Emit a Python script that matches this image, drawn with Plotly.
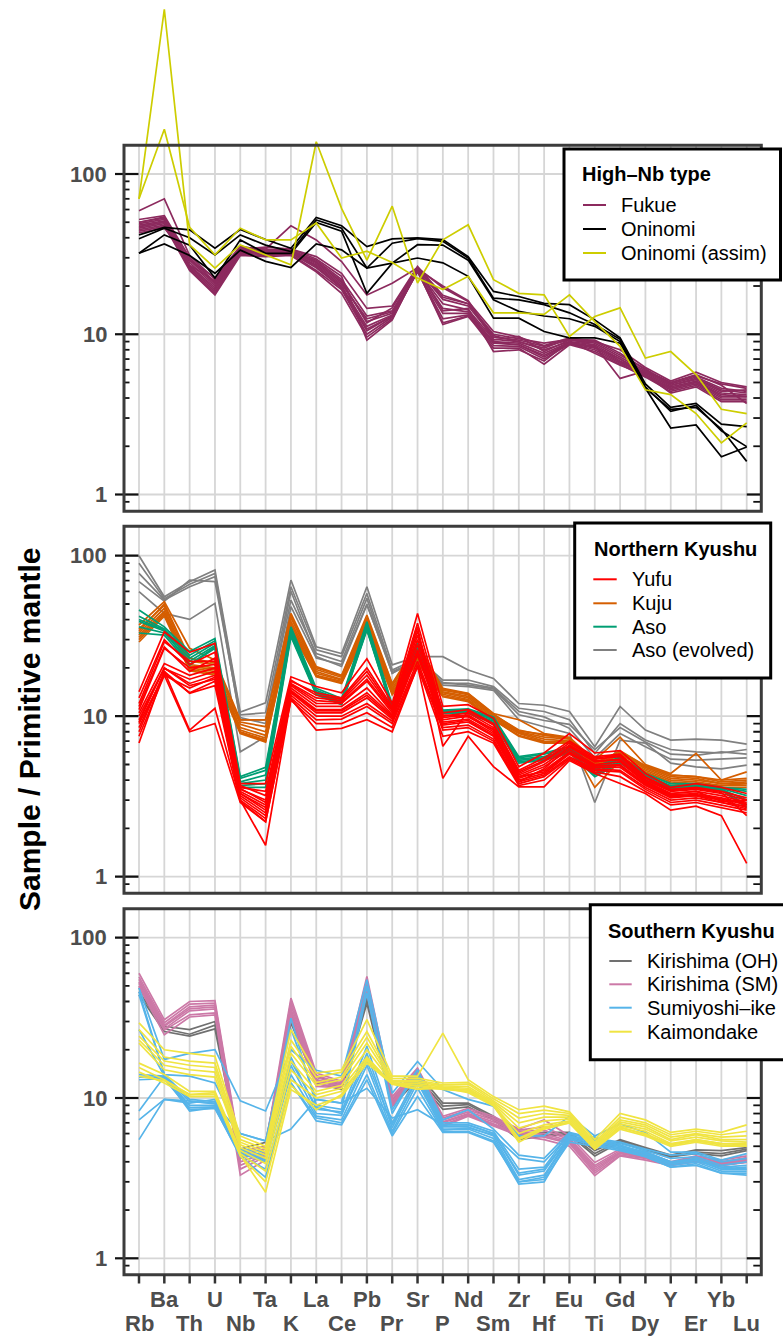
import math
import plotly.graph_objects as go

# Spider diagram: primitive-mantle normalised trace elements, three volcanic groups
ELEMENTS = ["Rb", "Ba", "Th", "U", "Nb", "Ta", "K", "La", "Ce", "Pb", "Pr", "Sr", "P",
            "Nd", "Sm", "Zr", "Hf", "Eu", "Ti", "Gd", "Dy", "Y", "Er", "Yb", "Lu"]

# ---- High-Nb type -------------------------------------------------------
FUKUE = [
    [59, 70, 31, 22, 35, 34, 47.5, 38.8, 28.4, 17.6, 20.8, 26, 19.5, 16.0, 10.4, 9.6, 8.5, 9.5, 9.0, 8.0, 6.2, 5.1, 5.8, 5.0, 4.7],
    [52, 55, 30, 21, 34, 35, 34, 30.5, 24, 14.5, 15, 26.5, 17.5, 15.5, 10.0, 9.4, 8.8, 9.3, 9.2, 7.6, 6.0, 5.0, 5.5, 4.9, 4.6],
    [50, 54, 28, 20, 33.5, 33, 33, 29, 22, 13, 14, 25.5, 16.5, 15, 9.6, 9.2, 8.4, 9.2, 8.8, 7.2, 5.9, 4.9, 5.4, 4.6, 4.4],
    [49, 52, 27, 19.5, 33, 32.5, 33, 28, 21, 12, 13.5, 25, 15.5, 14.2, 9.3, 9.0, 8.0, 9.0, 8.6, 7.0, 5.8, 4.8, 5.3, 4.5, 4.3],
    [48, 51, 26.5, 19, 32.5, 32, 32.5, 27, 20, 11.2, 13.2, 25, 14.5, 13.8, 9.0, 8.8, 7.6, 8.9, 8.4, 6.8, 5.7, 4.7, 5.1, 4.3, 4.2],
    [47, 50, 26, 18.5, 32, 31.5, 32, 26, 19.5, 10.5, 13, 24.5, 13.5, 13.5, 8.8, 8.6, 7.2, 8.8, 8.2, 6.7, 5.6, 4.6, 5.0, 4.2, 4.1],
    [46, 49, 25.5, 18, 31.5, 31, 31.5, 25, 19, 10, 12.8, 24.6, 12.5, 13.2, 8.5, 8.4, 7.0, 8.7, 8.0, 6.6, 5.5, 4.5, 4.9, 4.0, 4.0],
    [45, 48, 25, 17.6, 31, 30.5, 31, 24.5, 18, 9.6, 12.5, 24.8, 11.8, 13.0, 8.2, 8.2, 6.5, 8.6, 7.8, 6.5, 5.4, 4.4, 4.8, 3.9, 3.9],
    [44, 47, 27, 21.5, 34, 33.5, 34, 29.5, 23, 9.2, 12.3, 25.5, 14, 14.5, 7.8, 8.0, 6.8, 9.0, 7.6, 6.4, 5.6, 4.3, 4.7, 3.8, 3.8],
    [43, 46, 29, 22.5, 35.5, 33, 33.5, 28.5, 21.5, 11.8, 14.6, 26, 17, 15.5, 9.8, 9.0, 8.2, 9.4, 8.5, 5.3, 5.9, 5.0, 5.6, 4.8, 3.7],
    [50, 53, 30, 21, 34, 34, 33, 27.5, 20.5, 12.5, 13.8, 25.5, 20, 16.2, 9.2, 9.7, 7.8, 9.2, 9.0, 7.4, 6.1, 4.8, 5.2, 4.4, 4.5],
    [47, 50, 29, 20.5, 33, 32, 32.5, 26.5, 19.5, 10.8, 13, 25, 11.5, 12.9, 8.9, 8.6, 7.4, 8.8, 8.3, 7.0, 5.5, 4.6, 5.0, 4.1, 4.1],
]
ONINOMI = [
    [41.7, 46.5, 44.8, 34.4, 45.0, 39.0, 34.4, 53.5, 47.5, 35.2, 39.4, 39.9, 39.0, 30.5, 18.5, 17.2, 15.6, 15.3, 12.3, 9.5, 4.9, 3.5, 3.7, 2.75, 2.65],
    [39.4, 45.9, 40.0, 31.3, 41.7, 36.0, 32.8, 51.7, 45.9, 25.9, 37.0, 39.5, 38.0, 29.9, 16.8, 16.4, 15.3, 13.6, 11.5, 9.3, 4.7, 3.3, 3.6, 2.5, 1.99],
    [32.0, 41.7, 36.0, 22.4, 38.8, 32.0, 32.0, 49.8, 44.0, 18.0, 27.8, 36.2, 36.0, 29.0, 16.4, 13.9, 13.0, 12.5, 11.2, 9.0, 4.6, 3.4, 3.5, 2.56, 1.61],
    [32.0, 36.6, 31.0, 24.0, 33.5, 28.5, 26.1, 36.6, 33.6, 25.9, 27.8, 29.9, 27.9, 23.0, 12.6, 12.6, 10.4, 9.5, 9.5, 8.8, 4.6, 2.6, 2.72, 1.72, 1.98],
]
ONINOMI_ASSIM = [
    [70, 1067, 36.1, 25.9, 36.1, 31.3, 27.1, 159, 61, 29, 63, 20.9, 38.8, 48.2, 21.9, 18.0, 17.6, 9.7, 12.9, 14.6, 7.1, 7.8, 5.6, 3.4, 3.2],
    [70, 190, 46.5, 31.3, 45.9, 38.8, 38.8, 49.5, 29.9, 33, 28, 22.4, 19.0, 23.0, 13.6, 13.6, 13.3, 17.6, 12.0, 8.4, 4.5, 4.2, 3.2, 2.1, 2.8],
]

# ---- Northern Kyushu ----------------------------------------------------
YUFU = [
    [14.2, 33.6, 25, 28.4, 3.8, 3.8, 17.6, 15.3, 14.0, 22.8, 12.0, 43.7, 11.5, 11.8, 9.7, 4.84, 5.9, 7.8, 5.9, 6.1, 4.4, 3.6, 3.8, 3.6, 3.3],
    [12.0, 29.1, 22, 22, 3.6, 3.4, 16.5, 14.0, 13.0, 20.0, 11.5, 38.0, 10.5, 11.0, 9.0, 4.6, 5.5, 7.0, 5.6, 5.8, 4.2, 3.5, 3.6, 3.4, 3.1],
    [11.0, 26.5, 20, 21, 3.5, 3.0, 16.0, 13.0, 12.5, 18.0, 11.0, 34.0, 10.0, 10.5, 8.5, 4.4, 5.2, 6.6, 5.4, 5.6, 4.0, 3.4, 3.5, 3.3, 3.0],
    [10.5, 21.3, 18, 20, 3.4, 2.8, 15.5, 12.0, 12.0, 16.5, 10.5, 30.0, 9.8, 10.2, 8.2, 4.3, 5.0, 6.4, 5.2, 5.4, 3.9, 3.3, 3.4, 3.2, 2.9],
    [10.0, 19.8, 17, 19, 3.3, 2.6, 15.0, 11.5, 11.5, 15.0, 10.2, 28.0, 9.5, 10.0, 8.0, 4.2, 4.84, 6.2, 5.0, 5.2, 3.85, 3.25, 3.3, 3.1, 2.85],
    [9.5, 19.9, 16, 18, 3.2, 2.5, 14.5, 11.0, 11.0, 14.0, 10.0, 26.0, 9.2, 9.6, 7.8, 4.1, 4.6, 6.0, 4.9, 5.0, 3.8, 3.2, 3.25, 3.05, 2.8],
    [9.0, 18.0, 15, 17.5, 3.1, 2.4, 14.0, 10.5, 10.5, 13.0, 9.6, 24.0, 8.8, 9.2, 7.5, 4.0, 4.4, 5.8, 4.8, 4.8, 3.7, 3.1, 3.2, 3.0, 2.7],
    [8.5, 18.5, 14, 16.5, 3.0, 2.3, 13.5, 10.0, 10.0, 12.0, 9.3, 22.0, 8.5, 8.8, 7.2, 3.9, 4.3, 5.6, 4.7, 4.6, 3.6, 3.0, 3.1, 2.9, 2.65],
    [8.0, 19.0, 13.9, 15.5, 2.95, 2.2, 13.0, 9.5, 9.6, 11.5, 9.0, 21.0, 8.2, 8.5, 7.0, 3.8, 4.2, 5.5, 4.6, 4.5, 3.5, 2.9, 3.0, 2.8, 2.6],
    [7.5, 18.0, 8.0, 9.0, 2.9, 2.2, 12.6, 9.0, 9.0, 10.5, 8.5, 20.4, 7.5, 8.0, 6.8, 3.7, 4.0, 5.4, 4.5, 4.2, 3.4, 2.8, 2.9, 2.7, 2.5],
    [6.8, 19.0, 8.2, 11.2, 3.0, 1.57, 12.8, 8.2, 8.4, 9.5, 8.0, 20.5, 4.1, 7.5, 4.85, 3.63, 3.63, 5.3, 4.4, 3.8, 3.3, 2.6, 2.75, 2.4, 1.21],
    [13.0, 30.0, 21, 25, 3.7, 3.2, 16.8, 13.5, 12.8, 19.0, 11.2, 36.0, 6.5, 10.8, 8.8, 4.5, 5.3, 6.8, 5.5, 5.7, 4.1, 3.45, 3.55, 3.35, 2.4],
    [11.5, 27.0, 19, 23, 3.55, 2.9, 15.8, 12.5, 12.2, 17.0, 10.8, 32.0, 10.2, 9.9, 8.3, 3.9, 4.7, 6.5, 5.3, 5.3, 3.95, 3.3, 3.4, 2.95, 3.0],
    [9.2, 20.0, 15.5, 17, 3.3, 2.7, 14.2, 10.8, 10.8, 13.5, 9.8, 25.0, 9.0, 9.4, 7.6, 4.2, 4.5, 5.9, 4.9, 4.9, 3.75, 3.15, 3.2, 2.9, 2.75],
]
KUJU = [
    [37, 51.7, 26.5, 22.4, 9.5, 9.5, 43.7, 20.4, 18.0, 42.7, 16.0, 28.5, 14.9, 13.9, 10.4, 9.5, 7.8, 7.4, 5.3, 7.4, 5.0, 4.4, 5.86, 4.0, 4.5],
    [35, 49, 22, 21, 8.9, 8.0, 41, 19.5, 17.5, 40, 15.5, 26, 14.5, 13.6, 10.2, 8.2, 7.6, 7.3, 5.0, 6.1, 4.9, 4.3, 4.2, 3.9, 4.0],
    [33, 47, 21, 20, 8.5, 7.6, 39, 19, 17, 38.5, 15, 25, 14.2, 13.3, 10.0, 8.0, 7.4, 7.2, 4.9, 5.9, 4.8, 4.2, 4.1, 3.8, 3.9],
    [32, 45, 20.5, 19.5, 8.2, 7.3, 37.5, 18.5, 16.8, 37, 14.6, 24, 14.0, 13.0, 9.8, 7.9, 7.2, 7.0, 4.8, 5.8, 4.7, 4.1, 4.0, 3.8, 3.8],
    [31, 44, 20, 19, 8.0, 7.1, 36, 18, 16.5, 36, 14.2, 23, 13.7, 12.7, 9.6, 7.8, 7.0, 6.9, 4.6, 5.6, 4.6, 4.0, 3.9, 3.7, 3.8],
    [30, 43, 19.5, 18.5, 7.9, 7.0, 35, 17.8, 16.2, 35, 14.0, 22, 13.4, 12.5, 9.5, 7.6, 6.9, 6.8, 4.4, 5.5, 4.5, 3.9, 3.8, 3.7, 3.7],
    [29, 42, 19.2, 18, 7.8, 6.9, 34.4, 17.6, 16.0, 34.4, 13.6, 21.4, 13.2, 12.3, 9.5, 7.5, 6.8, 6.8, 3.6, 5.3, 4.4, 3.8, 3.7, 3.6, 3.6],
    [34, 50, 23, 21.5, 9.2, 8.6, 42, 20, 17.8, 41, 15.8, 27, 14.7, 13.8, 10.3, 8.1, 7.7, 7.3, 5.1, 6.0, 4.9, 4.3, 4.2, 4.0, 4.1],
]
ASO = [
    [45.9, 36, 25.3, 30.5, 4.2, 4.8, 36, 14.9, 12.9, 38.8, 11.8, 28.5, 10.9, 11.1, 9.9, 5.6, 5.9, 6.45, 4.8, 5.6, 4.4, 3.8, 3.8, 3.6, 3.5],
    [42, 35, 24, 29.5, 4.1, 4.6, 35, 14.5, 12.6, 37.5, 11.5, 27.5, 10.8, 10.9, 9.7, 5.5, 5.8, 6.3, 4.7, 5.5, 4.3, 3.7, 3.75, 3.6, 3.4],
    [39, 34, 23, 28.5, 3.9, 4.3, 34, 14.2, 12.3, 36.5, 11.3, 26.5, 10.7, 10.8, 9.5, 5.4, 5.6, 6.2, 4.6, 5.4, 4.25, 3.65, 3.7, 3.55, 3.2],
    [36, 33, 22, 27.5, 3.8, 4.0, 33, 14, 12.1, 35.5, 11.1, 25.5, 10.6, 10.6, 9.3, 5.3, 5.5, 6.1, 4.4, 5.3, 4.15, 3.6, 3.65, 3.5, 3.0],
    [33, 32, 21, 27, 3.7, 3.8, 32, 13.8, 11.9, 35, 11.0, 25, 10.5, 10.5, 9.1, 5.2, 5.4, 6.0, 4.3, 5.2, 4.1, 3.55, 3.6, 3.5, 2.8],
    [40, 34.5, 20.8, 26.5, 3.6, 3.6, 31.3, 13.6, 11.8, 34.4, 10.9, 24.6, 10.4, 10.4, 9.0, 5.1, 5.3, 5.9, 4.2, 5.1, 4.0, 3.5, 3.6, 3.45, 2.7],
]
ASO_EVOLVED = [
    [100, 55.5, 68.9, 81.4, 10.6, 12.1, 70.5, 27.1, 24.6, 64.1, 20.9, 23.5, 23.5, 19.4, 17.2, 12.0, 11.7, 10.7, 6.45, 11.5, 8.2, 7.1, 7.2, 7.1, 6.7],
    [89.6, 54.0, 66.5, 77.6, 10.2, 10.5, 64.1, 25.9, 23.5, 58.2, 19.4, 23.0, 16.8, 16.8, 15.3, 11.2, 10.7, 9.5, 5.86, 9.0, 7.1, 6.2, 6.0, 5.9, 6.2],
    [77.6, 53.0, 64.1, 74.0, 9.5, 9.5, 52.9, 24.6, 21.9, 54.2, 18.5, 22.5, 16.0, 16.0, 15.0, 10.7, 9.9, 8.4, 5.5, 7.8, 6.45, 5.4, 5.33, 5.4, 5.5],
    [68.9, 52.0, 70.5, 68.9, 9.8, 9.0, 60.0, 23.5, 20.4, 49.3, 19.0, 22.0, 15.6, 15.3, 14.5, 9.5, 8.6, 7.8, 2.9, 7.1, 6.8, 5.1, 4.84, 4.7, 4.96],
    [59.7, 43.7, 40.1, 50.5, 6.0, 7.46, 48.1, 23.0, 21.0, 50.0, 18.5, 23.0, 16.2, 15.6, 14.8, 10.2, 9.4, 8.9, 6.2, 8.5, 6.9, 5.8, 5.7, 6.0, 5.8],
]

# ---- Southern Kyushu ----------------------------------------------------
KIRISHIMA_OH = [
    [48.6, 28, 26.7, 30, 4.8, 5.3, 33, 13.7, 12.0, 43, 9.7, 14.3, 9.3, 9.3, 7.7, 5.9, 6.1, 6.1, 4.7, 5.5, 4.9, 4.4, 4.75, 4.7, 4.9],
    [46, 27, 25, 28.5, 4.6, 5.0, 31, 13, 11.6, 41, 9.3, 13.6, 8.9, 9.1, 7.5, 5.7, 5.9, 6.0, 4.5, 5.4, 4.8, 4.3, 4.6, 4.5, 4.8],
    [44, 26, 24.3, 27, 4.4, 4.8, 29.4, 12.4, 11.3, 39, 8.9, 13.0, 8.5, 8.8, 7.3, 5.5, 5.8, 5.9, 4.35, 5.3, 4.7, 4.3, 4.5, 4.35, 4.7],
]
KIRISHIMA_SM = [
    [60, 30.8, 40, 40.5, 4.6, 5.0, 42, 14.3, 12.7, 57.4, 10.2, 15.4, 7.7, 8.6, 7.7, 6.4, 7.3, 5.8, 3.96, 4.8, 4.6, 4.0, 4.35, 4.1, 4.35],
    [57, 29.5, 38.5, 39, 4.4, 4.8, 40, 13.8, 12.4, 54, 9.9, 15.0, 7.5, 8.4, 7.5, 6.3, 6.6, 5.6, 3.8, 4.7, 4.5, 3.95, 4.3, 4.0, 4.25],
    [55, 28.5, 37, 38, 4.2, 4.6, 38, 13.4, 12.2, 52, 9.6, 14.6, 7.3, 8.2, 7.3, 6.2, 6.3, 5.5, 3.7, 4.6, 4.4, 3.9, 4.2, 3.95, 4.15],
    [53, 28, 36, 37, 4.0, 4.5, 36, 13.0, 12.0, 50, 9.4, 14.3, 7.1, 8.0, 7.1, 6.1, 6.0, 5.4, 3.6, 4.55, 4.3, 3.85, 4.15, 3.9, 4.1],
    [52, 27, 35, 36, 3.8, 4.4, 35, 12.6, 11.9, 48, 9.2, 14.0, 7.0, 7.9, 6.9, 6.0, 5.8, 5.3, 3.5, 4.5, 4.25, 3.85, 4.1, 3.85, 4.05],
    [50, 26.5, 33, 34, 3.6, 4.3, 33, 12.2, 11.7, 46, 9.0, 13.8, 6.8, 7.8, 6.8, 5.9, 5.7, 5.2, 3.4, 4.4, 4.2, 3.8, 4.05, 3.8, 4.0],
    [49.7, 24.8, 32, 33, 3.3, 4.1, 31, 11.8, 11.6, 45.2, 8.9, 13.7, 6.65, 7.7, 6.7, 5.8, 5.5, 5.0, 3.28, 4.35, 4.1, 3.8, 4.0, 3.8, 3.96],
]
SUMIYOSHI_IKE = [
    [48.6, 17.4, 19, 20, 9.6, 8.3, 20, 14.9, 13.7, 54.7, 10.7, 16.9, 11.3, 9.8, 8.9, 5.8, 5.8, 7.7, 5.8, 6.9, 6.1, 4.6, 4.6, 4.1, 4.5],
    [46, 14, 13.7, 12.4, 6.0, 5.4, 27, 9.8, 9.3, 50, 8.45, 15, 7.3, 8.45, 6.4, 4.4, 4.2, 6.1, 5.6, 5.3, 4.8, 4.4, 4.5, 4.0, 4.2],
    [44, 14, 9.8, 9.5, 4.8, 4.6, 31.5, 9.0, 8.5, 45, 8.0, 15, 7.0, 7.0, 6.2, 3.6, 3.7, 6.0, 5.5, 5.2, 4.7, 4.2, 4.3, 3.8, 4.0],
    [26.7, 13.7, 9.5, 9.3, 4.7, 4.4, 18, 8.5, 8.2, 21, 7.0, 14, 6.8, 6.8, 6.0, 3.3, 3.5, 5.8, 5.4, 5.0, 4.6, 4.0, 4.2, 3.7, 3.8],
    [14, 13.7, 9.0, 9.0, 4.6, 4.2, 16, 8.0, 7.8, 19, 6.5, 13.5, 6.6, 6.6, 5.8, 3.1, 3.3, 5.7, 5.3, 4.9, 4.5, 3.9, 4.1, 3.6, 3.6],
    [13.5, 13.5, 8.7, 8.8, 4.5, 4.0, 14, 7.7, 7.3, 16, 6.2, 12.5, 6.4, 6.4, 5.6, 3.0, 3.2, 5.6, 5.2, 4.8, 4.4, 3.8, 4.0, 3.5, 3.5],
    [13, 13.2, 8.5, 8.6, 4.4, 3.6, 12.4, 7.5, 7.0, 14, 6.0, 11.5, 6.2, 6.2, 5.4, 2.9, 3.0, 5.5, 5.1, 4.8, 4.3, 3.7, 3.9, 3.4, 3.4],
    [8.3, 13.6, 8.3, 8.7, 4.3, 3.2, 12.4, 7.2, 6.8, 13, 5.8, 10.2, 6.1, 6.1, 5.3, 3.0, 3.1, 5.3, 5.0, 4.7, 4.3, 3.7, 3.8, 3.4, 3.3],
    [7.3, 9.8, 9.6, 9.2, 6.0, 5.4, 6.4, 9.8, 9.3, 11.5, 7.5, 8.45, 6.8, 6.8, 6.0, 3.4, 3.6, 5.7, 5.6, 5.0, 4.6, 4.0, 4.1, 3.6, 3.7],
    [5.5, 9.8, 9.3, 9.8, 4.5, 4.1, 17, 8.8, 8.0, 17, 6.8, 13, 6.3, 6.5, 5.9, 4.2, 4.0, 5.9, 5.7, 5.1, 4.5, 3.9, 4.1, 3.7, 3.6],
]
KAIMONDAKE = [
    [29.4, 20, 19, 18.2, 5.8, 5.0, 26.7, 14.3, 15, 30.8, 13.7, 13.7, 25.4, 13, 10.2, 8.45, 8.9, 8.2, 5.5, 8.0, 7.3, 6.1, 6.4, 6.1, 6.8],
    [26.7, 18, 17, 16.5, 5.5, 4.8, 23, 13.5, 14.5, 26, 13.2, 13.3, 12.4, 12.5, 9.9, 8.0, 8.4, 8.0, 5.3, 7.6, 7.0, 5.9, 6.2, 5.9, 6.2],
    [24.3, 17, 16, 15.5, 5.3, 4.6, 21, 12.5, 13.5, 24, 12.8, 12.9, 12.1, 12.2, 9.6, 7.5, 8.0, 7.8, 5.2, 7.3, 6.8, 5.7, 6.0, 5.7, 5.8],
    [23, 16, 15, 14.5, 5.1, 4.4, 19, 12, 13, 22, 12.6, 12.6, 11.9, 11.8, 9.4, 7.0, 7.6, 7.6, 5.1, 7.1, 6.6, 5.5, 5.9, 5.5, 5.5],
    [22, 15, 14, 13.5, 4.9, 4.2, 17, 11, 12, 20, 12.4, 12.3, 11.7, 11.5, 9.2, 6.5, 7.2, 7.4, 5.0, 6.9, 6.4, 5.4, 5.7, 5.4, 5.3],
    [16.5, 14, 11, 11, 4.7, 3.9, 15, 10.5, 11.5, 18, 12.2, 12.0, 11.5, 11.2, 9.0, 6.0, 6.8, 7.2, 4.9, 6.7, 6.2, 5.2, 5.5, 5.2, 5.1],
    [15.5, 13, 10.5, 10.8, 4.5, 3.5, 13, 10, 11, 17, 12.5, 11.8, 11.3, 11.0, 9.0, 5.6, 6.6, 7.0, 4.8, 6.5, 6.0, 5.1, 5.4, 5.1, 5.0],
    [14.5, 12.4, 10.2, 10.2, 4.4, 2.58, 11.3, 9, 10.2, 16.5, 12.2, 11.3, 11.6, 10.8, 8.9, 5.3, 6.4, 7.0, 4.8, 6.4, 5.8, 5.0, 5.3, 5.0, 5.0],
    [13.7, 12.8, 10.5, 10.5, 4.35, 3.0, 12, 8.45, 10.5, 17.5, 12.3, 11.5, 11.4, 11.3, 9.1, 5.5, 6.5, 7.1, 4.9, 6.6, 5.9, 5.1, 5.5, 5.2, 5.2],
]

Y_TICK_VALUES = [1, 10, 100]
Y_TICK_TEXT = ["1", "10", "100"]
Y_MINOR_VALUES = [0.9, 2, 3, 4, 5, 6, 7, 8, 9, 20, 30, 40, 50, 60, 70, 80, 90]

# ---- page geometry (pixels) ---------------------------------------------
W, H = 783, 1338
FONT = "Liberation Sans, Arial, Helvetica, sans-serif"
X_LEFT, X_RIGHT = 124.0, 761.3          # frame sides
X_FIRST, X_LAST = 139.0, 746.7          # Rb and Lu positions
PX_PER_EL = (X_LAST - X_FIRST) / (len(ELEMENTS) - 1)
LINE_W = 1.7


def px(x):
    return x / W


def py(y):
    return 1 - y / H


PANELS = [
    dict(
        groups=[("Fukue", FUKUE, "#8C2A5E"), ("Oninomi", ONINOMI, "#000000"),
                ("Oninomi (assim)", ONINOMI_ASSIM, "#CDCD00")],
        order=[0, 1, 2],
        y100=174.0, y1=494.5, top=145.3, bottom=511.3, dom_top=0.0,
        title="High\u2013Nb type",
        box=(564.0, 149.0, 780.5, 280.0), title_xy=(580.0, 174.0),
        rows=[205.0, 229.0, 253.0], line_x=(583.0, 606.0), text_x=619.0,
    ),
    dict(
        groups=[("Yufu", YUFU, "#FF0000"), ("Kuju", KUJU, "#D55E00"),
                ("Aso", ASO, "#009E73"), ("Aso (evolved)", ASO_EVOLVED, "#808080")],
        order=[3, 1, 2, 0],
        y100=555.7, y1=876.7, top=526.3, bottom=893.2, dom_top=526.3,
        title="Northern Kyushu",
        box=(574.7, 523.0, 770.7, 678.0), title_xy=(591.7, 549.0),
        rows=[579.3, 603.3, 626.7, 650.0], line_x=(593.3, 616.7), text_x=630.0,
    ),
    dict(
        groups=[("Kirishima (OH)", KIRISHIMA_OH, "#707070"), ("Kirishima (SM)", KIRISHIMA_SM, "#CC79A7"),
                ("Sumiyoshi\u2013ike", SUMIYOSHI_IKE, "#56B4E9"), ("Kaimondake", KAIMONDAKE, "#F0E442")],
        order=[0, 1, 2, 3],
        y100=937.7, y1=1258.3, top=908.7, bottom=1274.7, dom_top=908.7,
        title="Southern Kyushu",
        box=(590.3, 904.7, 795.0, 1059.7), title_xy=(606.0, 930.7),
        rows=[961.0, 984.3, 1007.7, 1031.7], line_x=(609.3, 631.7), text_x=645.0,
    ),
]

fig = go.Figure()
layout = dict(
    width=W, height=H, margin=dict(l=0, r=0, t=0, b=0),
    paper_bgcolor="white", plot_bgcolor="rgba(0,0,0,0)", showlegend=False,
)
shapes_below, shapes_above, annotations = [], [], []

x_idx = list(range(len(ELEMENTS)))
x_range = [-(X_FIRST - X_LEFT) / PX_PER_EL, (len(ELEMENTS) - 1) + (X_RIGHT - X_LAST) / PX_PER_EL]

for k, p in enumerate(PANELS, start=1):
    xa, ya = f"x{k}", f"y{k}"
    ppd = (p["y1"] - p["y100"]) / 2.0
    y_lo = -(p["bottom"] - p["y1"]) / ppd
    y_hi = 2 + (p["y100"] - p["dom_top"]) / ppd
    layout[f"xaxis{k}"] = dict(domain=[px(X_LEFT), px(X_RIGHT)], range=x_range, visible=False,
                               anchor=ya, fixedrange=True)
    layout[f"yaxis{k}"] = dict(domain=[py(p["bottom"]), py(p["dom_top"])], range=[y_lo, y_hi],
                               type="log", visible=False, anchor=xa, fixedrange=True)

    # sample profiles
    for gi in p["order"]:
        name, data, color = p["groups"][gi]
        for row in data:
            fig.add_trace(go.Scatter(x=x_idx, y=row, mode="lines", xaxis=xa, yaxis=ya,
                                     line=dict(color=color, width=LINE_W), name=name,
                                     hoverinfo="skip", showlegend=False))

    # grid
    for i in x_idx:
        shapes_below.append(dict(type="line", xref=xa, yref="paper", x0=i, x1=i,
                                 y0=py(p["bottom"]), y1=py(p["top"]), layer="below",
                                 line=dict(color="#D6D6D6", width=1.8)))
    for v in Y_TICK_VALUES:
        shapes_below.append(dict(type="line", xref="paper", yref=ya, x0=px(X_LEFT), x1=px(X_RIGHT),
                                 y0=v, y1=v, layer="below", line=dict(color="#D6D6D6", width=1.8)))

    # y ticks on both sides
    for v in Y_TICK_VALUES:
        shapes_above.append(dict(type="line", xref="paper", yref=ya, x0=px(115), x1=px(138.5),
                                 y0=v, y1=v, line=dict(color="#111111", width=2.2)))
        shapes_above.append(dict(type="line", xref="paper", yref=ya, x0=px(746.7), x1=px(X_RIGHT),
                                 y0=v, y1=v, line=dict(color="#111111", width=2.2)))
    for v in Y_MINOR_VALUES:
        shapes_above.append(dict(type="line", xref="paper", yref=ya, x0=px(X_LEFT), x1=px(129.5),
                                 y0=v, y1=v, line=dict(color="#111111", width=1.8)))
        shapes_above.append(dict(type="line", xref="paper", yref=ya, x0=px(753.3), x1=px(X_RIGHT),
                                 y0=v, y1=v, line=dict(color="#111111", width=1.8)))
    for v, t in zip(Y_TICK_VALUES, Y_TICK_TEXT):
        annotations.append(dict(xref="paper", yref=ya, x=px(109.5), y=math.log10(v), text=f"<b>{t}</b>",
                                showarrow=False, xanchor="right", yanchor="middle",
                                font=dict(family=FONT, size=22, color="#4D4D4D")))

    # frame
    shapes_above.append(dict(type="rect", xref="paper", yref="paper", x0=px(X_LEFT), x1=px(X_RIGHT),
                             y0=py(p["bottom"]), y1=py(p["top"]),
                             line=dict(color="#3C3C3C", width=3), fillcolor="rgba(0,0,0,0)"))

    # legend box
    bx0, by0, bx1, by1 = p["box"]
    shapes_above.append(dict(type="rect", xref="paper", yref="paper", x0=px(bx0), x1=px(bx1),
                             y0=py(by1), y1=py(by0), line=dict(color="#000000", width=3),
                             fillcolor="white"))
    annotations.append(dict(xref="paper", yref="paper", x=px(p["title_xy"][0]), y=py(p["title_xy"][1]),
                            text=f"<b>{p['title']}</b>", showarrow=False, xanchor="left", yanchor="middle",
                            font=dict(family=FONT, size=20, color="#000000")))
    for (name, _, color), ry in zip(p["groups"], p["rows"]):
        shapes_above.append(dict(type="line", xref="paper", yref="paper", x0=px(p["line_x"][0]),
                                 x1=px(p["line_x"][1]), y0=py(ry), y1=py(ry),
                                 line=dict(color=color, width=2)))
        annotations.append(dict(xref="paper", yref="paper", x=px(p["text_x"]), y=py(ry), text=name,
                                showarrow=False, xanchor="left", yanchor="middle",
                                font=dict(family=FONT, size=20, color="#000000")))

# element ticks and labels under the bottom panel
for i, el in enumerate(ELEMENTS):
    shapes_above.append(dict(type="line", xref="x3", yref="paper", x0=i, x1=i,
                             y0=py(1274.7), y1=py(1283.5), line=dict(color="#333333", width=2.5)))
    row_y = 1299.0 if i % 2 else 1323.5
    annotations.append(dict(xref="x3", yref="paper", x=i, y=py(row_y), text=f"<b>{el}</b>",
                            showarrow=False, xanchor="center", yanchor="middle",
                            font=dict(family=FONT, size=22, color="#4D4D4D")))

annotations.append(dict(xref="paper", yref="paper", x=px(30), y=py(730), text="<b>Sample / Primitive mantle</b>",
                        textangle=-90, showarrow=False, xanchor="center", yanchor="middle",
                        font=dict(family=FONT, size=30, color="#000000")))

layout["shapes"] = shapes_below + shapes_above
layout["annotations"] = annotations
fig.update_layout(**layout)
fig.write_html("out.html")
